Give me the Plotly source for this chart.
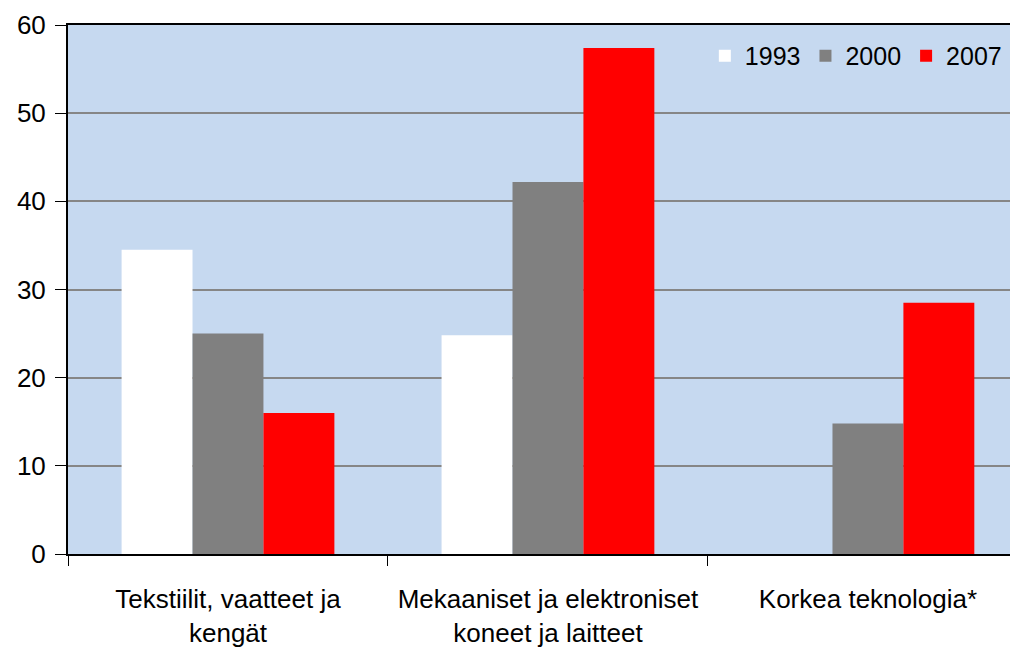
import plotly.graph_objects as go

categories = ["Tekstiilit, vaatteet ja<br>kengät",
              "Mekaaniset ja elektroniset<br>koneet ja laitteet",
              "Korkea teknologia*"]
series_names = ["1993", "2000", "2007"]
values_1993 = [34.5, 24.8, 0]
values_2000 = [25.0, 42.2, 14.8]
values_2007 = [16.0, 57.4, 28.5]
colors = ["#FFFFFF", "#808080", "#FF0000"]
y_ticks = [0, 10, 20, 30, 40, 50, 60]

FONT = "Liberation Sans"

fig = go.Figure()
for name, vals, col in zip(series_names, [values_1993, values_2000, values_2007], colors):
    fig.add_trace(go.Bar(x=categories, y=vals, name=name,
                         marker=dict(color=col, line=dict(width=0))))

fig.update_layout(
    width=1018, height=651,
    margin=dict(l=60, r=0, t=17, b=105),
    paper_bgcolor="white",
    plot_bgcolor="#C6D9F0",
    barmode="group",
    bargap=0.335,
    bargroupgap=0,
    font=dict(family=FONT, size=24, color="black"),
    showlegend=True,
    legend=dict(orientation="h", x=0.98, xanchor="right", y=0.985, yanchor="top",
                bgcolor="rgba(0,0,0,0)", font=dict(size=25, family=FONT),
                itemwidth=30, traceorder="normal"),
    xaxis=dict(type="category", range=[-0.5, 2.494], showline=True, linecolor="black",
               linewidth=2, mirror=True, ticks="outside", tickson="boundaries",
               ticklen=10, tickcolor="black", tickwidth=1, showgrid=False,
               ticklabelstandoff=21,
               tickfont=dict(size=26, family=FONT)),
    yaxis=dict(range=[0, 60], tickvals=y_ticks, showline=True, linecolor="black",
               linewidth=2, ticks="outside", ticklen=11, tickcolor="black", tickwidth=1,
               showgrid=True, gridcolor="#868686", gridwidth=2, zeroline=False,
               ticklabelstandoff=4,
               tickfont=dict(size=26, family=FONT)),
)

fig.write_html("out.html")
